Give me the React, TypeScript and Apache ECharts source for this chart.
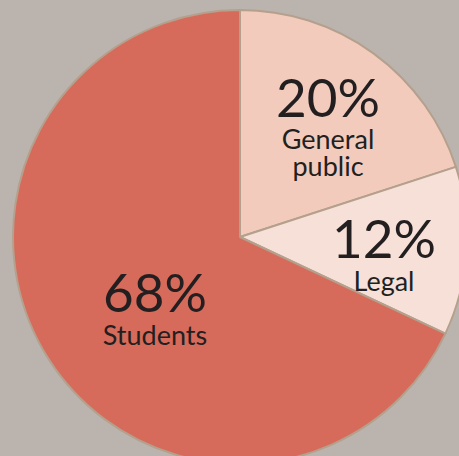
import React, { useEffect, useRef } from "react";
import * as echarts from "echarts";

const categories = ["General\npublic", "Legal", "Students"];
const values = [20, 12, 68];
const colors = ["#f2cbbd", "#f7e0d7", "#d66b5b"];
const labelPositions = [
  [328, 123],
  [384, 251],
  [155, 305],
];

export default function App() {
  const ref = useRef<HTMLDivElement>(null);
  useEffect(() => {
    document.body.style.margin = "0";
    const chart = echarts.init(ref.current!, null, { renderer: "svg" });
    chart.setOption({
      animation: false,
      backgroundColor: "#bbb4ae",
      series: [
        {
          type: "pie",
          center: [240, 237],
          radius: 227,
          startAngle: 90,
          clockwise: true,
          silent: true,
          itemStyle: { borderColor: "#b4a08c", borderWidth: 2 },
          label: {
            show: true,
            position: "inside",
            formatter: (p: any) => `{p|${p.value}%}\n{n|${p.name}}`,
            color: "#231f20",
            fontFamily: "Lato",
            align: "center",
            rich: {
              p: { fontSize: 53, lineHeight: 58, fontFamily: "Lato", color: "#231f20", align: "center" },
              n: { fontSize: 27, lineHeight: 27, fontFamily: "Lato", color: "#231f20", align: "center" },
            },
          },
          labelLine: { show: false },
          labelLayout: (params: any) => ({
            x: labelPositions[params.dataIndex][0],
            y: labelPositions[params.dataIndex][1],
            align: "center",
            verticalAlign: "middle",
          }),
          data: categories.map((c, i) => ({
            name: c,
            value: values[i],
            itemStyle: { color: colors[i] },
          })),
        },
      ],
    });
    return () => chart.dispose();
  }, []);
  return <div ref={ref} style={{ width: 459, height: 456 }} />;
}
